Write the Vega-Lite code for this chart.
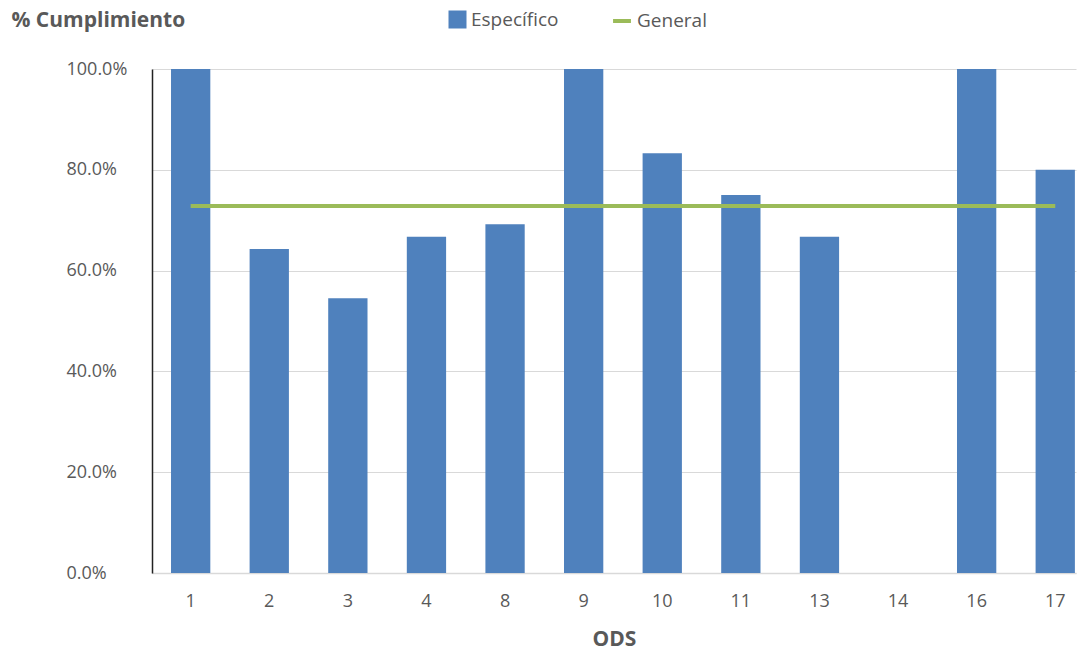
{
  "$schema": "https://vega.github.io/schema/vega-lite/v6.json",
  "width": 924,
  "height": 504,
  "autosize": {"type": "none"},
  "padding": {"left": 152, "top": 69, "right": 9, "bottom": 81},
  "background": "white",
  "config": {
    "font": "Open Sans",
    "view": {"stroke": null},
    "axis": {"labelFont": "Open Sans", "titleFont": "Open Sans"},
    "legend": {"labelFont": "Open Sans"}
  },
  "data": {
    "values": [
      {"ods": "1", "especifico": 1.0, "general": 0.728},
      {"ods": "2", "especifico": 0.643, "general": 0.728},
      {"ods": "3", "especifico": 0.545, "general": 0.728},
      {"ods": "4", "especifico": 0.667, "general": 0.728},
      {"ods": "8", "especifico": 0.692, "general": 0.728},
      {"ods": "9", "especifico": 1.0, "general": 0.728},
      {"ods": "10", "especifico": 0.833, "general": 0.728},
      {"ods": "11", "especifico": 0.75, "general": 0.728},
      {"ods": "13", "especifico": 0.667, "general": 0.728},
      {"ods": "14", "especifico": 0.0, "general": 0.728},
      {"ods": "16", "especifico": 1.0, "general": 0.728},
      {"ods": "17", "especifico": 0.8, "general": 0.728}
    ]
  },
  "encoding": {
    "x": {
      "field": "ods",
      "type": "ordinal",
      "sort": null,
      "scale": {"paddingInner": 0.5, "paddingOuter": 0.128, "align": 0.945},
      "axis": {
        "title": "ODS",
        "titleFontSize": 21,
        "titleFontWeight": "bold",
        "titleColor": "#595959",
        "titlePadding": 18,
        "labelAngle": 0,
        "labelFontSize": 18,
        "labelColor": "#595959",
        "labelPadding": 19,
        "ticks": false,
        "domainColor": "#D9D9D9",
        "domainWidth": 1.5
      }
    }
  },
  "layer": [
    {
      "mark": {"type": "bar", "color": "#4F81BD"},
      "encoding": {
        "y": {
          "field": "especifico",
          "type": "quantitative",
          "scale": {"domain": [0, 1], "nice": false},
          "axis": {
            "title": "% Cumplimiento",
            "titleAngle": 0,
            "titleAlign": "left",
            "titleBaseline": "middle",
            "titleX": -141,
            "titleY": -49,
            "titleFontSize": 21,
            "titleFontWeight": "bold",
            "titleColor": "#595959",
            "format": ".1%",
            "values": [0, 0.2, 0.4, 0.6, 0.8, 1.0],
            "labelFontSize": 18,
            "labelColor": "#595959",
            "labelAlign": "left",
            "labelPadding": 86,
            "tickSize": 0,
            "domainColor": "#222222",
            "domainWidth": 1.5,
            "gridColor": "#D9D9D9",
            "gridWidth": 1.2
          }
        },
        "fill": {
          "datum": "Específico",
          "type": "nominal",
          "scale": {"range": ["#4F81BD"]},
          "legend": {
            "title": null,
            "orient": "none",
            "legendX": 296,
            "legendY": -59,
            "symbolType": "square",
            "symbolSize": 324,
            "symbolStrokeWidth": 0,
            "labelFontSize": 19,
            "labelColor": "#595959",
            "labelOffset": 4
          }
        }
      }
    },
    {
      "mark": {"type": "line", "strokeWidth": 4, "color": "#9BBB59"},
      "encoding": {
        "y": {"field": "general", "type": "quantitative"},
        "stroke": {
          "datum": "General",
          "type": "nominal",
          "scale": {"range": ["#9BBB59"]},
          "legend": {
            "title": null,
            "orient": "none",
            "legendX": 459,
            "legendY": -59,
            "symbolType": "stroke",
            "symbolSize": 320,
            "symbolStrokeWidth": 4,
            "labelFontSize": 19,
            "labelColor": "#595959",
            "labelOffset": 4
          }
        }
      }
    }
  ],
  "resolve": {"scale": {"fill": "independent", "stroke": "independent"}}
}
